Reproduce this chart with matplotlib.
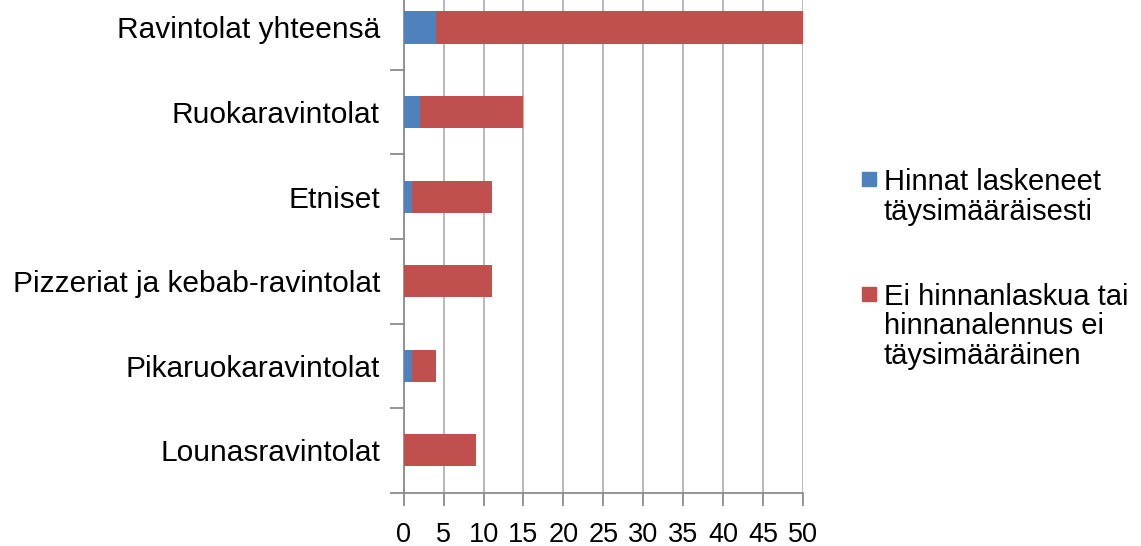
import numpy as np
import matplotlib.pyplot as plt
from matplotlib.patches import Rectangle

plt.rcParams['font.family'] = ['Liberation Sans', 'DejaVu Sans']

categories = ['Lounasravintolat', 'Pikaruokaravintolat', 'Pizzeriat ja kebab-ravintolat',
              'Etniset', 'Ruokaravintolat', 'Ravintolat yhteensä']
laskeneet = [0, 1, 0, 1, 2, 4]
ei_laskua = [9, 3, 11, 10, 13, 46]
series_labels = ['Hinnat laskeneet\ntäysimääräisesti',
                 'Ei hinnanlaskua tai\nhinnanalennus ei\ntäysimääräinen']
colors = ['#4F81BD', '#C0504D']

W, H = 1141, 546
fig = plt.figure(figsize=(W / 100, H / 100), dpi=100)
ax = fig.add_axes([0.3537, 0.0976, 0.3503, 0.9295])

y = np.arange(len(categories))
ax.barh(y, laskeneet, height=0.38, color=colors[0], zorder=3)
ax.barh(y, ei_laskua, left=laskeneet, height=0.38, color=colors[1], zorder=3)

ax.set_xlim(0, 50)
ax.set_ylim(-0.5, 5.5)
ax.set_xticks(np.arange(0, 51, 5))
ax.grid(axis='x', color='#b3b3b3', linewidth=1.3, zorder=0)

# category separators as major ticks, names on minor ticks
ax.set_yticks(np.arange(-0.5, 5.6, 1))
ax.set_yticklabels([])
ax.set_yticks(y, minor=True)
ax.set_yticklabels(categories, minor=True)
ax.tick_params(axis='y', which='major', length=10, width=1.3, color='#8c8c8c')
ax.tick_params(axis='y', which='minor', length=0, pad=17, labelsize=21.5)
ax.tick_params(axis='x', length=9, width=1.3, color='#8c8c8c', pad=12, labelsize=19.5)

for s in ['top', 'right']:
    ax.spines[s].set_visible(False)
for s in ['left', 'bottom']:
    ax.spines[s].set_color('#8c8c8c')
    ax.spines[s].set_linewidth(1.3)

# legend: square next to the first line of each entry
first_baseline = [190, 305]
line_step = 29.5
for lab, c, b in zip(series_labels, colors, first_baseline):
    fig.patches.append(Rectangle((862 / W, 1 - (b - 4.5) / H), 14 / W, 14 / H,
                                 transform=fig.transFigure, color=c))
    for k, line in enumerate(lab.split('\n')):
        fig.text(884 / W, 1 - (b + k * line_step) / H, line, fontsize=21,
                 ha='left', va='baseline')

fig.savefig('out.png', dpi=100)
